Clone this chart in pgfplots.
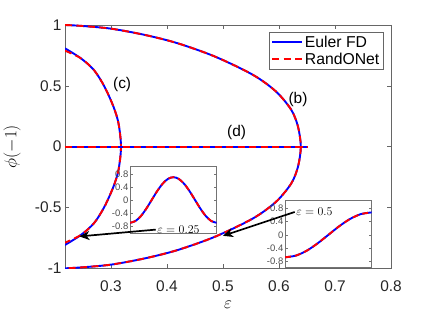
\documentclass[border=0pt]{standalone}
\usepackage{fontspec}
\setmainfont{Liberation Sans}
\usepackage{pgfplots}
\usepackage{pgfplotstable}
\pgfplotsset{compat=1.18}
\usetikzlibrary{arrows.meta}

\definecolor{axgray}{RGB}{38,38,38}

% branch (b)
\pgfplotstableread{
x y
0.218 1.000
0.246 0.993
0.300 0.970
0.361 0.918
0.419 0.850
0.486 0.740
0.554 0.589
0.595 0.452
0.622 0.302
0.634 0.164
0.639 0.000
0.634 -0.164
0.622 -0.302
0.595 -0.452
0.554 -0.589
0.486 -0.740
0.419 -0.850
0.361 -0.918
0.300 -0.970
0.246 -0.993
0.218 -1.000
}\brb

% branch (c), Euler FD
\pgfplotstableread{
x y
0.218 0.808
0.2464 0.726
0.270 0.628
0.2885 0.493
0.3045 0.329
0.3135 0.192
0.318 0.000
0.3135 -0.192
0.3045 -0.329
0.2885 -0.493
0.270 -0.628
0.2464 -0.726
0.218 -0.808
}\brcfd

% branch (c), RandONet
\pgfplotstableread{
x y
0.218 0.789
0.2464 0.726
0.270 0.628
0.2885 0.493
0.3045 0.329
0.3135 0.192
0.318 0.000
0.3135 -0.192
0.3045 -0.329
0.2885 -0.493
0.270 -0.628
0.2464 -0.726
0.218 -0.789
}\brcnet

% branch (d)
\pgfplotstableread{
x y
0.218 0
0.651 0
}\brd

% profile at eps = 0.25
\pgfplotstableread{
x y
-1 -0.680
-0.875 -0.627
-0.75 -0.476
-0.625 -0.251
-0.5 0.015
-0.375 0.281
-0.25 0.506
-0.125 0.657
0 0.710
0.125 0.657
0.25 0.506
0.375 0.281
0.5 0.015
0.625 -0.251
0.75 -0.476
0.875 -0.627
1 -0.680
}\profa

% profile at eps = 0.5
\pgfplotstableread{
x y
-1 -0.670
-0.75 -0.619
-0.5 -0.474
-0.25 -0.256
0 0
0.25 0.256
0.5 0.474
0.75 0.619
1 0.670
}\profb

\pgfplotsset{
  fd/.style={blue, line width=1.9bp, smooth, forget plot},
  net/.style={red, line width=1.9bp, dash pattern=on 7bp off 4.5bp, smooth, forget plot},
  inset/.style={
    scale only axis, width=86.7bp,
    xmin=-1, xmax=1, xtick=\empty,
    ytick={-0.8,-0.4,0,0.4,0.8},
    yticklabels={-0.8,-0.4,0,0.4,0.8},
    yticklabel style={font=\fontsize{9.5}{11}\selectfont, text=black!70, inner sep=1.5bp},
    axis background/.style={fill=white},
    axis line style={black!55, line width=0.5bp},
    tick style={black!55, line width=0.5bp},
    major tick length=2.5bp,
  },
}

\begin{document}
\begin{tikzpicture}
\path (0,0) rectangle (432bp,324bp);

\begin{axis}[
  at={(65bp,55.7bp)}, anchor=south west,
  scale only axis, width=326bp, height=243.3bp,
  xmin=0.218, xmax=0.8, ymin=-1, ymax=1,
  xtick={0.3,0.4,0.5,0.6,0.7,0.8},
  xticklabels={0.3,0.4,0.5,0.6,0.7,0.8},
  ytick={-1,-0.5,0,0.5,1},
  yticklabels={-1,-0.5,0,0.5,1},
  tick label style={font=\fontsize{15.5}{18}\selectfont, text=axgray},
  xticklabel style={yshift=-9bp},
  axis line style={black!60, line width=0.5bp},
  tick style={black!60, line width=0.5bp},
  major tick length=4bp,
  xlabel={$\varepsilon$},
  ylabel={$\phi(-1)$},
  xlabel style={font=\fontsize{16}{18}\selectfont, at={(axis description cs:0.5,-0.15)}, anchor=center},
  ylabel style={font=\fontsize{17}{20}\selectfont, at={(axis description cs:-0.1626,0.5)}, anchor=center},
  legend style={at={(rel axis cs:0.9755,0.971)}, anchor=north east,
    draw=black!60, fill=white, font=\fontsize{15.8}{18}\selectfont,
    inner sep=1.5bp, row sep=0bp},
  legend cell align=left,
  legend image code/.code={\draw[#1] (0bp,0bp) -- (30bp,0bp);},
]
\addlegendimage{blue, line width=1.9bp}
\addlegendentry{Euler FD}
\addlegendimage{red, line width=1.9bp, dash pattern=on 7bp off 4.5bp}
\addlegendentry{RandONet}

\addplot[fd] table {\brb};
\addplot[net] table {\brb};
\addplot[fd] table {\brcfd};
\addplot[net] table {\brcnet};
\addplot[fd] table {\brd};
\addplot[net] table {\brd};

\node[font=\fontsize{15.5}{18}\selectfont] at (axis cs:0.320,0.507) {(c)};
\node[font=\fontsize{15.5}{18}\selectfont] at (axis cs:0.634,0.39) {(b)};
\node[font=\fontsize{15.5}{18}\selectfont] at (axis cs:0.5245,0.117) {(d)};

\coordinate (h1) at (axis cs:0.2437,-0.738);
\coordinate (t1) at (axis cs:0.380,-0.682);
\coordinate (h2) at (axis cs:0.500,-0.733);
\coordinate (t2) at (axis cs:0.628,-0.537);
\end{axis}

\begin{axis}[inset, at={(130bp,90.7bp)}, anchor=south west,
  height=67.3bp, ymin=-1, ymax=1.05]
\addplot[fd] table {\profa};
\addplot[net, dash pattern=on 6bp off 4bp] table {\profa};
\end{axis}

\begin{axis}[inset, at={(285bp,56.3bp)}, anchor=south west,
  height=67.7bp, ymin=-0.98, ymax=1.04]
\addplot[fd] table {\profb};
\addplot[net, dash pattern=on 6bp off 4bp] table {\profb};
\end{axis}

\draw[line width=1.7bp, -{Stealth[length=10bp, width=9bp, inset=3bp]}] (t1) -- (h1);
\draw[line width=1.7bp, -{Stealth[length=10bp, width=9bp, inset=3bp]}] (t2) -- (h2);
\node[anchor=west, inner sep=1.5bp, font=\fontsize{12.5}{14}\selectfont] at (t1) {$\varepsilon = 0.25$};
\node[anchor=west, inner sep=1.5bp, font=\fontsize{12.5}{14}\selectfont] at (t2) {$\varepsilon = 0.5$};
\end{tikzpicture}
\end{document}
